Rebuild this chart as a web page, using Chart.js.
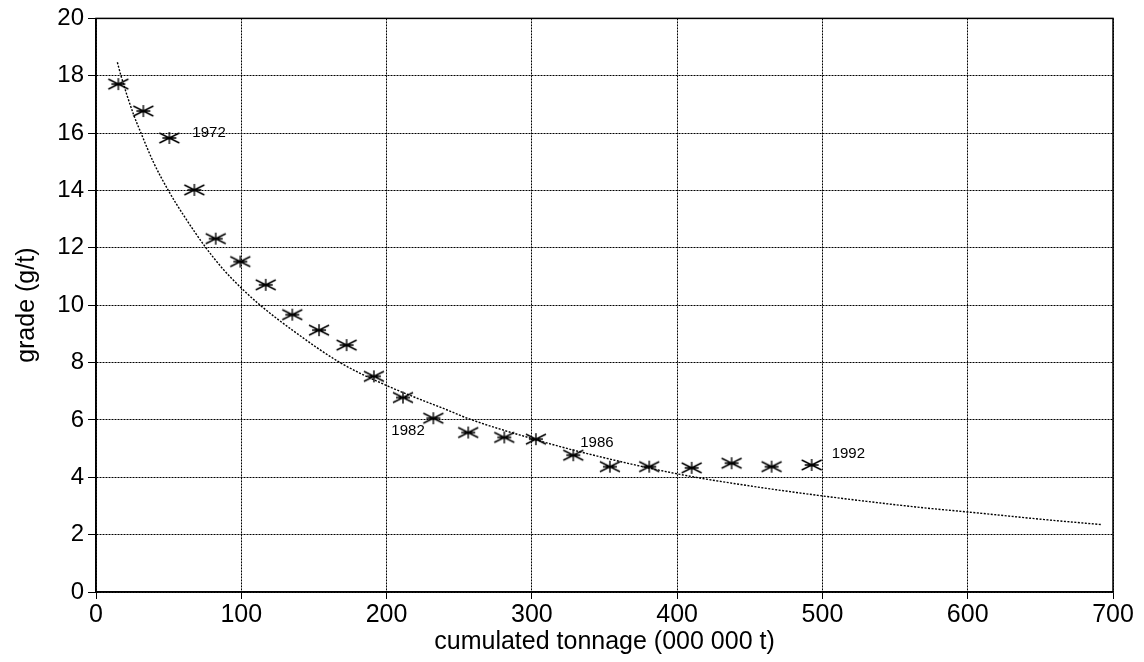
<!DOCTYPE html>
<html>
<head>
<meta charset="utf-8">
<script src="https://cdn.jsdelivr.net/npm/chart.js@4"></script>
<style>
  body { margin: 0; background: #fff; }
  #wrap { width: 1144px; height: 662px; }
</style>
</head>
<body>
<div id="wrap"><canvas id="gradeChart"></canvas></div>
<script>
// yearly observations, 1970 - 1992
const years = [1970, 1971, 1972, 1973, 1974, 1975, 1976, 1977, 1978, 1979, 1980, 1981,
               1982, 1983, 1984, 1985, 1986, 1987, 1988, 1989, 1990, 1991, 1992];
const obsTonnage = [15.4, 32.6, 50.5, 67.7, 82.4, 99.3, 116.8, 135.1, 153.5, 172.5, 191.3, 211.3,
                    232.2, 256.2, 281, 302.8, 328.5, 353.7, 380.8, 410, 437.5, 465, 492.6];
const obsGrade = [17.71, 16.77, 15.83, 14.02, 12.32, 11.52, 10.71, 9.67, 9.13, 8.61, 7.52, 6.78,
                  6.06, 5.56, 5.39, 5.33, 4.77, 4.37, 4.37, 4.33, 4.49, 4.37, 4.43];

// fitted trend curve
const fitTonnage = [14.7, 17.2, 25.7, 31, 39.4, 49.8, 60.1, 75.7, 87.6, 100, 113, 136, 168, 200, 244, 256, 300, 333, 402, 450, 500, 567, 600, 654, 692];
const fitGrade = [18.47, 18.0, 16.67, 16.0, 15.0, 14.0, 13.15, 12.0, 11.25, 10.6, 10.0, 9.1, 8.0, 7.2, 6.3, 6.05, 5.35, 4.89, 4.1, 3.7, 3.35, 2.95, 2.79, 2.52, 2.35];

const labelYears = [1972, 1982, 1986, 1992];

const xTicks = [0, 100, 200, 300, 400, 500, 600, 700];
const yTicks = [0, 2, 4, 6, 8, 10, 12, 14, 16, 18, 20];

const FONT = '"Liberation Sans", Arial, Helvetica, sans-serif';

// asterisk-like marker
function makeStar() {
  const c = document.createElement('canvas');
  c.width = 24; c.height = 14;
  const g = c.getContext('2d');
  g.strokeStyle = '#000';
  g.lineWidth = 1.4;
  g.beginPath();
  g.moveTo(2, 2); g.lineTo(22, 12);
  g.moveTo(2, 12); g.lineTo(22, 2);
  g.moveTo(12, 1); g.lineTo(12, 13);
  g.moveTo(5, 7); g.lineTo(19, 7);
  g.stroke();
  return c;
}

const observed = obsTonnage.map((t, i) => ({x: t, y: obsGrade[i]}));
const fitted = fitTonnage.map((t, i) => ({x: t, y: fitGrade[i]}));

const yearNotes = {
  id: 'yearNotes',
  afterDatasetsDraw(chart) {
    const {ctx, scales: {x, y}} = chart;
    const offsets = {1972: [23, -5], 1982: [-42, 13], 1986: [7, -12], 1992: [20, -11]};
    ctx.save();
    ctx.font = '15px ' + FONT;
    ctx.fillStyle = '#000';
    ctx.textBaseline = 'middle';
    labelYears.forEach(yr => {
      const k = years.indexOf(yr);
      const px = x.getPixelForValue(obsTonnage[k]);
      const py = y.getPixelForValue(obsGrade[k]);
      ctx.fillText(String(yr), px + offsets[yr][0], py + offsets[yr][1]);
    });
    ctx.restore();
  }
};

const frame = {
  id: 'frame',
  afterDraw(chart) {
    const {ctx, chartArea: a} = chart;
    ctx.save();
    ctx.strokeStyle = '#000';
    ctx.lineWidth = 1.5;
    ctx.strokeRect(a.left, a.top, a.right - a.left, a.bottom - a.top);
    ctx.restore();
  }
};

const config = {
  type: 'scatter',
  data: {
    datasets: [{
      label: 'observed',
      data: observed,
      pointStyle: makeStar(),
      pointRadius: 10,
      showLine: false
    }, {
      label: 'fit',
      type: 'line',
      data: fitted,
      borderColor: '#000',
      borderWidth: 1.4,
      borderDash: [2, 1.5],
      pointRadius: 0,
      fill: false,
      cubicInterpolationMode: 'monotone'
    }]
  },
  options: {
    responsive: true,
    maintainAspectRatio: false,
    animation: false,
    layout: { padding: { top: 16, right: 31, left: 0, bottom: 0 } },
    plugins: {
      legend: { display: false },
      tooltip: { enabled: false }
    },
    scales: {
      x: {
        type: 'linear',
        min: 0, max: 700,
        afterBuildTicks: s => { s.ticks = xTicks.map(v => ({value: v})); },
        afterFit: s => { s.height = 70; },
        ticks: { color: '#000', font: { family: FONT, size: 25 }, padding: 1, maxRotation: 0 },
        grid: { color: '#000', lineWidth: 1, tickLength: 7, tickColor: '#000' },
        border: { dash: [2, 1], color: '#000', width: 1.5 },
        title: {
          display: true,
          text: 'cumulated tonnage (000 000 t)',
          color: '#000',
          font: { family: FONT, size: 25 },
          padding: { bottom: 5, top: 0 }
        }
      },
      y: {
        min: 0, max: 20,
        afterBuildTicks: s => { s.ticks = yTicks.map(v => ({value: v})); },
        afterFit: s => { s.width = 96; },
        ticks: { color: '#000', font: { family: FONT, size: 24 }, padding: 4 },
        grid: { color: '#000', lineWidth: 1, tickLength: 8, tickColor: '#000' },
        border: { dash: [2, 1], color: '#000', width: 1.5 },
        title: {
          display: true,
          text: 'grade (g/t)',
          color: '#000',
          font: { family: FONT, size: 25 },
          padding: { top: 12, bottom: 0 }
        }
      }
    }
  },
  plugins: [yearNotes, frame]
};

new Chart(document.getElementById('gradeChart'), config);
</script>
</body>
</html>
